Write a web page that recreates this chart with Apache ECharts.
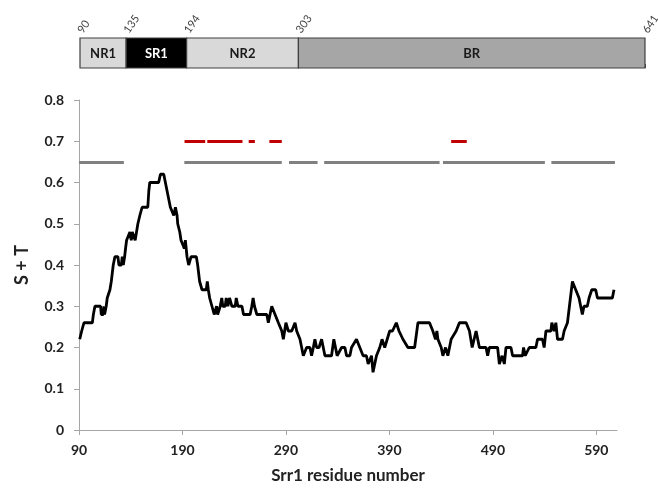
<!DOCTYPE html>
<html>
<head>
<meta charset="utf-8">
<script src="https://cdn.jsdelivr.net/npm/echarts@6/dist/echarts.min.js"></script>
<style>
html,body{margin:0;padding:0;background:#fff;}
#chart{width:658px;height:490px;}
</style>
</head>
<body>
<div id="chart"></div>
<script>
// ---- Domain map ----
const domainNames  = ['NR1', 'SR1', 'NR2', 'BR'];
const domainStarts = [90, 135, 194, 303];
const domainEnds   = [135, 194, 303, 641];
const domainTicks  = [90, 135, 194, 303, 641];

// ---- S+T profile ----
const residues = [90.7,92.6,94.8,102.9,103.9,105.4,110.9,111.5,113.5,114.0,114.7,116.3,117.3,118.9,119.9,121.2,123.1,124.7,127.6,128.6,130.9,131.8,132.8,134.1,135.0,136.0,137.6,139.2,140.5,141.5,143.1,144.3,145.6,146.9,148.8,151.0,156.5,157.5,158.4,167.0,168.7,171.9,173.5,175.1,176.7,178.3,179.9,181.6,183.2,184.8,185.4,187.4,188.6,190.5,191.8,192.8,194.4,196.0,197.0,198.3,203.4,204.7,206.6,208.9,213.0,214.0,215.0,216.3,218.5,220.7,222.0,223.0,224.0,225.3,226.5,228.0,229.0,231.3,232.3,233.9,235.5,236.8,237.8,241.0,242.0,243.6,247.5,249.0,255.4,257.0,258.3,259.6,261.9,271.5,273.0,276.3,279.5,282.7,286.0,287.5,290.0,292.3,295.6,298.8,300.4,303.6,306.8,310.0,313.2,314.8,316.5,318.0,319.7,322.0,324.5,327.7,334.1,336.3,339.5,343.8,347.0,348.6,351.8,353.4,358.2,361.4,364.6,367.8,369.5,371.0,372.7,374.2,377.5,380.7,382.9,385.5,387.0,390.3,393.0,396.7,398.0,399.3,403.1,405.0,407.9,414.4,417.6,428.8,432.0,434.6,435.9,436.9,440.1,441.7,444.3,446.5,449.7,454.5,457.7,464.2,467.4,470.0,473.8,475.4,477.0,483.4,485.0,486.6,494.6,496.3,498.9,501.1,502.7,507.5,509.1,518.7,519.7,521.3,525.2,531.6,533.2,538.0,539.6,541.3,546.1,547.0,549.3,550.9,552.5,557.3,558.9,562.1,566.9,570.1,573.3,576.5,578.1,581.3,583.0,585.6,589.4,591.1,605.5,607.1];
const stValues = [0.22,0.24,0.26,0.26,0.28,0.30,0.30,0.28,0.28,0.30,0.28,0.30,0.32,0.32,0.34,0.36,0.40,0.42,0.42,0.40,0.40,0.42,0.40,0.42,0.44,0.46,0.46,0.48,0.46,0.48,0.48,0.46,0.48,0.50,0.52,0.54,0.54,0.58,0.60,0.60,0.62,0.62,0.60,0.58,0.56,0.54,0.54,0.52,0.54,0.52,0.50,0.48,0.46,0.46,0.44,0.46,0.42,0.40,0.40,0.42,0.42,0.40,0.36,0.34,0.34,0.36,0.34,0.32,0.30,0.28,0.28,0.30,0.28,0.28,0.30,0.32,0.30,0.30,0.32,0.30,0.32,0.32,0.30,0.30,0.32,0.30,0.30,0.28,0.28,0.30,0.32,0.30,0.28,0.28,0.26,0.30,0.28,0.26,0.24,0.22,0.26,0.24,0.24,0.26,0.24,0.22,0.18,0.20,0.20,0.18,0.20,0.22,0.20,0.20,0.22,0.18,0.18,0.22,0.18,0.20,0.20,0.18,0.18,0.20,0.22,0.20,0.18,0.18,0.16,0.16,0.18,0.14,0.18,0.20,0.22,0.20,0.20,0.24,0.24,0.26,0.26,0.24,0.22,0.22,0.20,0.20,0.26,0.26,0.24,0.22,0.24,0.22,0.20,0.18,0.20,0.18,0.22,0.24,0.26,0.26,0.24,0.20,0.24,0.22,0.20,0.20,0.18,0.20,0.20,0.16,0.18,0.16,0.20,0.20,0.18,0.18,0.20,0.18,0.20,0.20,0.22,0.22,0.20,0.24,0.24,0.26,0.24,0.26,0.22,0.22,0.24,0.26,0.36,0.34,0.32,0.28,0.30,0.30,0.32,0.34,0.34,0.32,0.32,0.34];

// ---- Region bars ----
const grayLevel = 0.65;
const grayStarts = [90, 191.8, 293, 327, 441.8, 546.6];
const grayEnds   = [133.4, 286, 320.6, 438.5, 540.3, 608];
const redLevel = 0.70;
const redStarts = [192, 214, 254, 274, 449.7];
const redEnds   = [212, 248, 260, 286, 464.8];

// ---- Axis ticks ----
const xTicks = [90, 190, 290, 390, 490, 590];

const domainFill = ['#d9d9d9', '#000000', '#d9d9d9', '#a6a6a6'];
const domainText = ['#1a1a1a', '#ffffff', '#1a1a1a', '#1a1a1a'];
const FONT = 'Lato, "Open Sans", sans-serif';

const chart = echarts.init(document.getElementById('chart'), null, {renderer: 'canvas'});

function segs(starts, ends, level) {
  return starts.map((s, i) => [{coord: [s, level]}, {coord: [ends[i], level]}]);
}

const option = {
  animation: false,
  grid: [
    {left: 79, right: 41, top: 100, bottom: 60, outerBoundsMode: 'none', containLabel: false},
    {left: 80, right: 13, top: 38, height: 30, outerBoundsMode: 'none', containLabel: false}
  ],
  xAxis: [
    {
      gridIndex: 0, type: 'value', min: 90, max: 610,
      axisLine: {show: true, lineStyle: {color: '#a6a6a6', width: 1}},
      axisTick: {show: true, length: 5, inside: false, customValues: xTicks, lineStyle: {color: '#a6a6a6'}},
      axisLabel: {customValues: xTicks, fontFamily: FONT, fontWeight: 'bold', fontSize: 14, color: '#222', margin: 13},
      splitLine: {show: false},
      name: 'Srr1 residue number', nameLocation: 'middle', nameGap: 37,
      nameTextStyle: {fontFamily: FONT, fontWeight: 'bold', fontSize: 17, color: '#222'}
    },
    {
      gridIndex: 1, type: 'value', min: 90, max: 641, position: 'top',
      axisLine: {show: false},
      axisTick: {show: true, length: 4, customValues: domainTicks, lineStyle: {color: '#555'}},
      axisLabel: {customValues: domainTicks, rotate: 55, fontFamily: FONT, fontSize: 11, color: '#404040', margin: 6},
      splitLine: {show: false}
    }
  ],
  yAxis: [
    {
      gridIndex: 0, type: 'value', min: 0, max: 0.8, interval: 0.1,
      axisLine: {show: true, lineStyle: {color: '#a6a6a6', width: 1}},
      axisTick: {show: true, length: 5, inside: false, lineStyle: {color: '#a6a6a6'}},
      axisLabel: {fontFamily: FONT, fontWeight: 'bold', fontSize: 14, color: '#222', margin: 15,
        formatter: v => (v === 0 ? '0' : v.toFixed(1))},
      splitLine: {show: false},
      name: 'S + T', nameLocation: 'middle', nameGap: 48,
      nameTextStyle: {fontFamily: FONT, fontWeight: 'bold', fontSize: 18, color: '#222'}
    },
    {
      gridIndex: 1, type: 'value', min: 0, max: 1, show: false
    }
  ],
  series: [
    {
      type: 'custom', xAxisIndex: 1, yAxisIndex: 1, silent: true,
      data: domainNames.map((n, i) => [domainStarts[i], domainEnds[i], i]),
      renderItem: function (params, api) {
        const i = api.value(2);
        const p0 = api.coord([api.value(0), 1]);
        const p1 = api.coord([api.value(1), 0]);
        return {
          type: 'group',
          children: [
            {type: 'rect', shape: {x: p0[0], y: p0[1], width: p1[0] - p0[0], height: p1[1] - p0[1]},
             style: {fill: domainFill[i], stroke: '#404040', lineWidth: 1.2}},
            {type: 'text', style: {text: domainNames[i], x: (p0[0] + p1[0]) / 2, y: (p0[1] + p1[1]) / 2 + 1,
             align: 'center', verticalAlign: 'middle', fill: domainText[i], font: 'bold 13px ' + FONT}}
          ]
        };
      }
    },
    {
      type: 'line', xAxisIndex: 0, yAxisIndex: 0, silent: true,
      data: residues.map((r, i) => [r, stValues[i]]),
      showSymbol: false, symbol: 'none',
      lineStyle: {color: '#000', width: 2.8},
      markLine: {
        silent: true, symbol: ['none', 'none'], label: {show: false},
        lineStyle: {color: '#808080', width: 3, type: 'solid'},
        emphasis: {disabled: true},
        data: segs(grayStarts, grayEnds, grayLevel)
      }
    },
    {
      type: 'line', xAxisIndex: 0, yAxisIndex: 0, silent: true,
      data: [],
      markLine: {
        silent: true, symbol: ['none', 'none'], label: {show: false},
        lineStyle: {color: '#c00000', width: 3, type: 'solid'},
        emphasis: {disabled: true},
        data: segs(redStarts, redEnds, redLevel)
      }
    }
  ]
};
chart.setOption(option);
</script>
</body>
</html>
